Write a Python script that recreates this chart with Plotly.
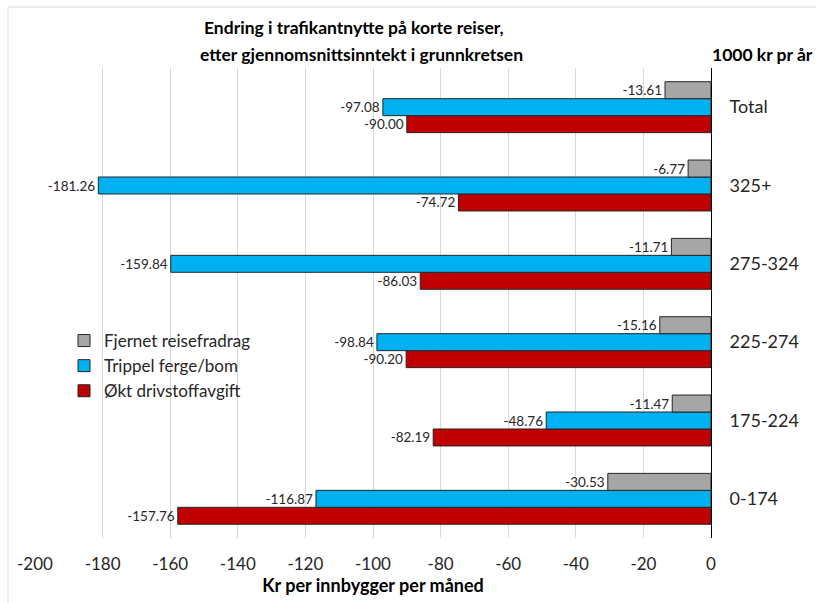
import plotly.graph_objects as go

# Income groups (1000 kr per year), listed bottom to top
categories = ["0-174", "175-224", "225-274", "275-324", "325+", "Total"]

# Change in monthly benefit per inhabitant (kr)
fjernet_reisefradrag = [-30.53, -11.47, -15.16, -11.71, -6.77, -13.61]
trippel_ferge_bom = [-116.87, -48.76, -98.84, -159.84, -181.26, -97.08]
okt_drivstoffavgift = [-157.76, -82.19, -90.20, -86.03, -74.72, -90.00]

x_ticks = list(range(-200, 1, 20))

FONT = "Lato"

series = [
    ("Økt drivstoffavgift", okt_drivstoffavgift, "#C00000"),
    ("Trippel ferge/bom", trippel_ferge_bom, "#00B0F0"),
    ("Fjernet reisefradrag", fjernet_reisefradrag, "#A6A6A6"),
]

fig = go.Figure()
for name, vals, color in series:
    fig.add_trace(go.Bar(
        y=categories,
        x=vals,
        name=name,
        orientation="h",
        marker=dict(color=color, line=dict(color="#262626", width=1)),
        text=[f"{v:.2f}" for v in vals],
        textposition="outside",
        textfont=dict(family=FONT, size=13.5, color="#262626"),
        cliponaxis=False,
    ))

L, R, T, B = 35, 105, 68, 65
W, H = 816, 603
pw, ph = W - L - R, H - T - B

def px_x(p):
    return (p - L) / pw

def px_y(p):
    return (H - B - p) / ph

fig.update_layout(
    width=W,
    height=H,
    margin=dict(l=L, r=R, t=T, b=B),
    paper_bgcolor="white",
    plot_bgcolor="white",
    barmode="group",
    bargap=0.35,
    bargroupgap=0,
    showlegend=True,
    legend=dict(
        x=px_x(64), y=px_y(323), xanchor="left", yanchor="top",
        traceorder="reversed",
        font=dict(family=FONT, size=17, color="#262626"),
        bgcolor="rgba(0,0,0,0)",
        itemwidth=30,
    ),
    xaxis=dict(
        range=[-200, 0],
        tickvals=x_ticks,
        ticktext=[str(v) for v in x_ticks],
        showgrid=True,
        gridcolor="#D9D9D9",
        gridwidth=1,
        zeroline=False,
        showline=False,
        ticks="",
        ticklabelstandoff=14,
        tickfont=dict(family=FONT, size=17, color="#262626"),
        title=dict(text="<b>Kr per innbygger per måned</b>",
                   font=dict(family=FONT, size=18, color="#000000"),
                   standoff=5),
    ),
    yaxis=dict(
        categoryorder="array",
        categoryarray=categories,
        side="right",
        showline=True,
        linecolor="#000000",
        linewidth=1,
        showgrid=False,
        zeroline=False,
        ticks="",
        ticklabelstandoff=14,
        tickfont=dict(family=FONT, size=18, color="#262626"),
    ),
    annotations=[
        dict(text="<b>Endring i trafikantnytte på korte reiser,</b>",
             xref="paper", yref="paper", x=px_x(354), y=px_y(27),
             xanchor="center", yanchor="middle", showarrow=False,
             font=dict(family=FONT, size=17.5, color="#000000")),
        dict(text="<b>etter gjennomsnittsinntekt i grunnkretsen</b>",
             xref="paper", yref="paper", x=px_x(361), y=px_y(55),
             xanchor="center", yanchor="middle", showarrow=False,
             font=dict(family=FONT, size=17.5, color="#000000")),
        dict(text="<b>1000 kr pr år</b>",
             xref="paper", yref="paper", x=px_x(762), y=px_y(55),
             xanchor="center", yanchor="middle", showarrow=False,
             font=dict(family=FONT, size=17.5, color="#000000")),
    ],
    shapes=[
        dict(type="rect", xref="paper", yref="paper",
             x0=px_x(8), x1=px_x(830), y0=px_y(620), y1=px_y(7),
             line=dict(color="#D9D9D9", width=1), fillcolor="rgba(0,0,0,0)",
             layer="below"),
    ],
)

fig.write_html("out.html")
